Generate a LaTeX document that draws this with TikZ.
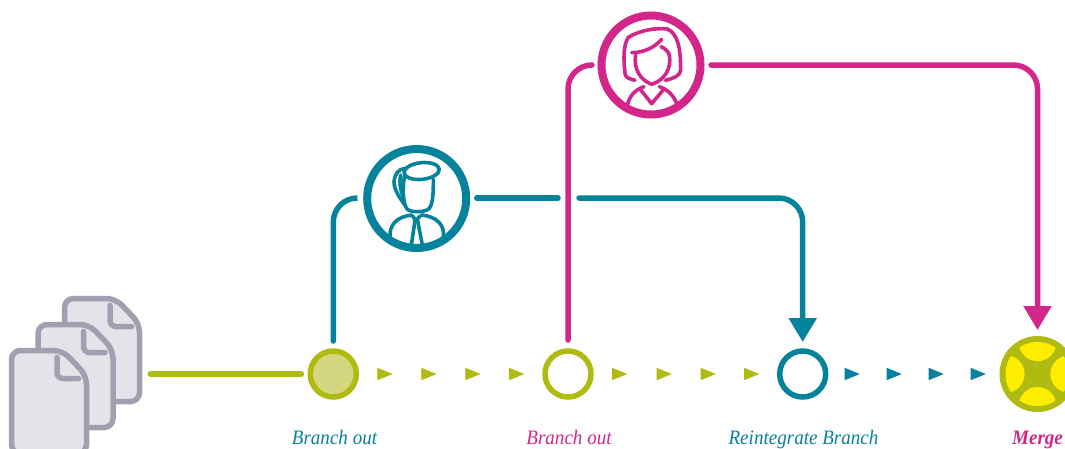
\documentclass[tikz,border=0pt]{standalone}
\usepackage{fontspec}
\setmainfont{Liberation Serif}
\newfontfamily\labfont[FakeStretch=0.93]{Liberation Serif}
\usetikzlibrary{calc,arrows.meta}
\definecolor{olive}{HTML}{B0BB12}
\definecolor{oliveL}{HTML}{D4D680}
\definecolor{tealc}{HTML}{05829C}
\definecolor{pinkc}{HTML}{D2268A}
\definecolor{greyc}{HTML}{A0A0B0}
\definecolor{docfill}{HTML}{E5E3EA}
\definecolor{yellowc}{HTML}{FFED00}
\tikzset{
  conn/.style={line width=5.5pt,line cap=round,rounded corners=24pt},
  bighead/.style={-{Triangle[width=27pt,length=24pt]}},
  ring/.style={circle,inner sep=0pt,minimum size=46pt,line width=5.5pt,fill=white},
  avatar/.style={circle,inner sep=0pt,minimum size=99pt,line width=8pt,fill=white},
  icon/.style={line width=3.6pt,line cap=round,line join=round},
  doc/.style={draw=greyc,fill=docfill,line width=5.5pt,line join=round,rounded corners=9pt},
  fold/.style={draw=greyc,line width=5.5pt,line cap=round,rounded corners=6pt},
  lab/.style={font=\fontsize{20.5}{24}\selectfont\labfont\itshape,anchor=base},
}
\newcommand{\tri}[2]{\fill[#2,line join=round,draw=#2,line width=.6pt] (#1,368.3) -- (#1+14,374) -- (#1,379.7) -- cycle;}
\newcommand{\docshape}[2]{%
  \begin{scope}[shift={(#1,#2)}]
    \path[doc] (0,103) -- (0,0) -- (51,0) -- (75,25) -- (75,103) -- cycle;
    \path[fold] (45.5,7) -- (45.5,28) -- (67,28);
  \end{scope}}
\begin{document}
\begin{tikzpicture}[x=1pt,y=-1pt]
\useasboundingbox (0,0) rectangle (1065,448);
\clip (0,0) rectangle (1065,448);
\docshape{64.5}{298.5}
\docshape{38}{324.5}
\docshape{11.5}{350.5}

\node[ring,draw=olive,fill=oliveL] (n1) at (333.3,374) {};
\node[ring,draw=olive] (n2) at (568,374) {};
\node[ring,draw=tealc] (n3) at (802.7,374) {};
\node[circle,inner sep=0pt,minimum size=76pt,fill=olive] (merge) at (1037.5,374) {};
\begin{scope}
  \clip (merge.center) circle (32pt);
  \foreach \a/\b in {0/-31.7,0/31.7,-31.7/0,31.7/0}
    \fill[yellowc] ($(merge.center)+(\a,\b)$) circle (18.8pt);
\end{scope}
\node[avatar,draw=tealc] (man) at (416.7,198.5) {};
\node[avatar,draw=pinkc] (woman) at (651,65) {};

\coordinate (docend) at ($(n1)+(-183,0)$);
\coordinate (a1) at ($(n1)+(0,-33)$);
\coordinate (a2) at ($(man)+(-60,-.5)$);
\coordinate (a3) at ($(man)+(60,-.5)$);
\coordinate (a4) at (558,198);
\coordinate (a5) at (579,198);
\coordinate (a6) at ($(n3)+(0,-32)$);
\coordinate (b1) at ($(n2)+(0,-34)$);
\coordinate (b2) at ($(woman)+(-59,0)$);
\coordinate (b3) at ($(woman)+(60,0)$);
\coordinate (b4) at ($(merge)+(0,-44)$);

\draw[conn,olive] (docend) -- ($(n1)+(-32,0)$);
\draw[conn,tealc] (a1) |- (a2);
\draw[conn,tealc] (a3) -- (a4);
\draw[conn,tealc,bighead] (a5) -| (a6);
\draw[conn,pinkc] (b1) |- (b2);
\draw[conn,pinkc,bighead] (b3) -| (b4);

\foreach \x in {377.7,421.7,465.7,509.5,612.5,657,701,744.5}{\tri{\x}{olive}}
\foreach \x in {845,887,929,971}{\tri{\x}{tealc}}

% man
\begin{scope}[shift={(350,140)},scale=1/3]
  \clip (man.center) circle (144pt);
  \draw[icon,tealc,rotate around={6:(215,93)}] (215,93) ellipse (53 and 25);
  \draw[icon,tealc] (163,108) .. controls (158,150) and (158,190) .. (172,208) .. controls (185,218) and (225,218) .. (238,205) .. controls (250,190) and (250,150) .. (250,118);
  \draw[icon,tealc] (165,85) .. controls (145,88) and (135,100) .. (132,125) .. controls (132,150) and (150,175) .. (165,195);
  \draw[icon,tealc] (152,105) .. controls (147,125) and (152,155) .. (160,170);
  \draw[icon,tealc] (120,290) .. controls (118,255) and (140,230) .. (185,225);
  \draw[icon,tealc] (215,225) .. controls (260,230) and (285,255) .. (280,290);
  \draw[icon,tealc] (188,228) -- (198,242) -- (210,228);
  \draw[icon,tealc] (195,242) -- (184,315);
  \draw[icon,tealc] (203,242) -- (217,315);
\end{scope}
% woman
\begin{scope}[shift={(590,5)},scale=1/3]
  \clip (woman.center) circle (144pt);
  \draw[icon,pinkc] (135,226) .. controls (120,222) and (105,218) .. (105,205) .. controls (100,160) and (100,120) .. (115,97) .. controls (150,75) and (200,68) .. (232,72) .. controls (262,85) and (272,125) .. (272,195) .. controls (272,212) and (250,220) .. (226,226);
  \draw[icon,pinkc] (125,143) .. controls (165,143) and (195,125) .. (215,103);
  \draw[icon,pinkc] (137,150) .. controls (130,190) and (150,225) .. (185,238) .. controls (225,225) and (245,190) .. (238,150) .. controls (235,140) and (225,130) .. (213,125);
  \draw[icon,pinkc] (112,300) .. controls (120,270) and (135,255) .. (162,245);
  \draw[icon,pinkc] (262,300) .. controls (250,270) and (235,255) .. (208,245);
  \draw[icon,pinkc] (150,252) -- (185,296) -- (222,252);
\end{scope}

\node[lab,text=tealc] (l1) at (334.5,444) {Branch out};
\node[lab,text=pinkc] (l2) at (569,444) {Branch out};
\node[lab,text=tealc] (l3) at (803.5,444) {Reintegrate Branch};
\node[lab,text=pinkc,font=\fontsize{20.5}{24}\selectfont\labfont\itshape\bfseries] (l4) at (1037.5,444) {Merge};
\end{tikzpicture}
\end{document}
